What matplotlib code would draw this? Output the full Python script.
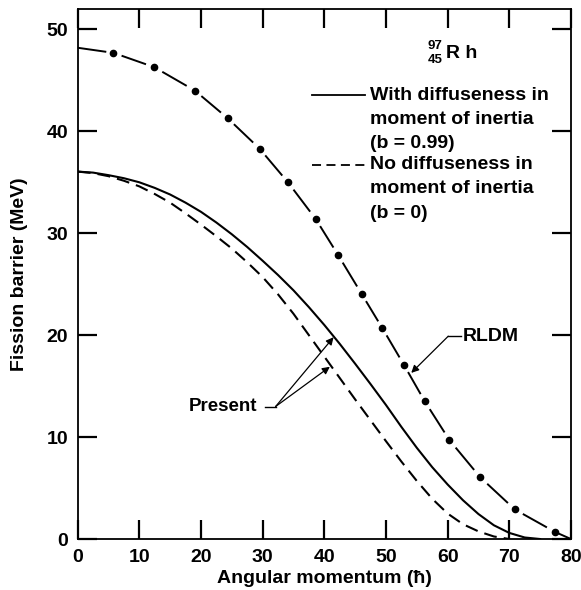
import numpy as np
import matplotlib.pyplot as plt

plt.rcParams['font.family'] = ['Liberation Sans', 'DejaVu Sans']
plt.rcParams['font.weight'] = 'bold'

# with diffuseness in moment of inertia (b = 0.99)
diff_x = [0, 2.5, 5, 7.5, 10, 12.5, 15, 17.5, 20, 22.5, 25, 27.5, 30, 32.5, 35, 37.5,
          40, 42.5, 45, 47.5, 50, 52.5, 55, 57.5, 60, 62.5, 65, 67.5, 70, 72.5, 75]
diff_y = [36.05, 35.95, 35.7, 35.4, 35.0, 34.45, 33.8, 33.0, 32.1, 31.05, 29.9, 28.65,
          27.3, 25.9, 24.4, 22.75, 21.0, 19.15, 17.2, 15.2, 13.15, 11.0, 8.95, 7.05,
          5.35, 3.8, 2.45, 1.35, 0.6, 0.15, 0.0]

# no diffuseness (b = 0)
nodiff_x = [0, 2.5, 5, 7.5, 10, 12.5, 15, 17.5, 20, 22.5, 25, 27.5, 30, 32.5, 35, 37.5,
            40, 42.5, 45, 47.5, 50, 52.5, 55, 57.5, 60, 62.5, 65, 67.5, 70]
nodiff_y = [36.05, 35.9, 35.6, 35.15, 34.6, 33.85, 33.0, 31.95, 30.85, 29.7, 28.5, 27.15,
            25.7, 24.0, 22.1, 20.0, 17.9, 15.8, 13.7, 11.65, 9.6, 7.6, 5.7, 3.95,
            2.5, 1.45, 0.75, 0.25, 0.0]

# RLDM (dots are the marked points, first/last are the ends of the curve)
rldm_x = [0, 5.8, 12.4, 19.0, 24.3, 29.5, 34.1, 38.6, 42.2, 46.1, 49.4, 52.9, 56.3, 60.3, 65.3, 70.9, 77.4, 80]
rldm_y = [48.2, 47.7, 46.3, 44.0, 41.3, 38.3, 35.0, 31.4, 27.9, 24.0, 20.7, 17.1, 13.5, 9.7, 6.05, 2.9, 0.7, 0.0]

xticks = list(range(0, 81, 10))
yticks = list(range(0, 51, 10))

legend_solid = ['With diffuseness in', 'moment of inertia', '(b = 0.99)']
legend_dash = ['No diffuseness in', 'moment of inertia', '(b = 0)']

fig = plt.figure(figsize=(5.81, 5.90), dpi=100)
ax = fig.add_axes([0.1337, 0.0864, 0.849, 0.8983])

ax.plot(diff_x, diff_y, color='black', lw=1.5)
ax.plot(nodiff_x, nodiff_y, color='black', lw=1.5, ls=(0, (6.2, 3.4)))

# dash-dot RLDM curve: a dash between each pair of dots
rx = np.array(rldm_x)
ry = np.array(rldm_y)
n = len(rx)
for i in range(n - 1):
    f0 = 0.0 if i == 0 else 0.2
    f1 = 1.0 if i + 1 == n - 1 else 0.8
    xs = [rx[i] + f0 * (rx[i+1] - rx[i]), rx[i] + f1 * (rx[i+1] - rx[i])]
    ys = [ry[i] + f0 * (ry[i+1] - ry[i]), ry[i] + f1 * (ry[i+1] - ry[i])]
    ax.plot(xs, ys, color='black', lw=1.4, solid_capstyle='butt', clip_on=False)
ax.plot(rx[1:-1], ry[1:-1], 'o', color='black', ms=4.5)

ax.set_xlim(0, 80)
ax.set_ylim(0, 52)
ax.set_xticks(xticks)
ax.set_yticks(yticks)
ax.tick_params(direction='in', length=14, width=1.6, color='black',
               top=True, right=True, labelsize=14, pad=7)
for s in ax.spines.values():
    s.set_linewidth(1.3)

ax.set_xlabel('Angular momentum (\u0127)', fontsize=14, fontweight='bold', labelpad=3)
ax.set_ylabel('Fission barrier (MeV)', fontsize=14, fontweight='bold', labelpad=13)

# nuclide label
ax.text(0.725, 0.930, '97', transform=ax.transAxes, fontsize=9.5, ha='center', va='center')
ax.text(0.725, 0.903, '45', transform=ax.transAxes, fontsize=9.5, ha='center', va='center')
ax.text(0.747, 0.916, 'R h', transform=ax.transAxes, fontsize=14, ha='left', va='center')

# legend
ax.plot([0.4745, 0.582], [0.8377, 0.8377], transform=ax.transAxes, color='black', lw=1.3)
ax.plot([0.4745, 0.582], [0.706, 0.706], transform=ax.transAxes, color='black', lw=1.3,
        ls=(0, (5, 3)))
for k, line in enumerate(legend_solid):
    ax.text(0.5926, 0.8377 - k * 0.0455, line, transform=ax.transAxes, fontsize=14,
            ha='left', va='center')
for k, line in enumerate(legend_dash):
    ax.text(0.5926, 0.706 - k * 0.0455, line, transform=ax.transAxes, fontsize=14,
            ha='left', va='center')

# "Present" annotation
ax.text(29.2, 13.0, 'Present', fontsize=13.5, ha='right', va='center')
ax.plot([30.4, 32.1], [13.0, 13.0], color='black', lw=1)
for tip in [(41.5, 19.8), (40.9, 16.9)]:
    ax.annotate('', xy=tip, xytext=(32.1, 13.0),
                arrowprops=dict(arrowstyle='-|>', lw=0.9, color='black',
                                mutation_scale=11, shrinkA=0, shrinkB=0))

# "RLDM" annotation
ax.text(62.4, 19.9, 'RLDM', fontsize=14, ha='left', va='center')
ax.plot([60.1, 62.1], [19.9, 19.9], color='black', lw=1)
ax.annotate('', xy=(54.1, 16.3), xytext=(60.1, 19.9),
            arrowprops=dict(arrowstyle='-|>', lw=0.9, color='black',
                            mutation_scale=11, shrinkA=0, shrinkB=0))

fig.savefig('out.png', dpi=100)
